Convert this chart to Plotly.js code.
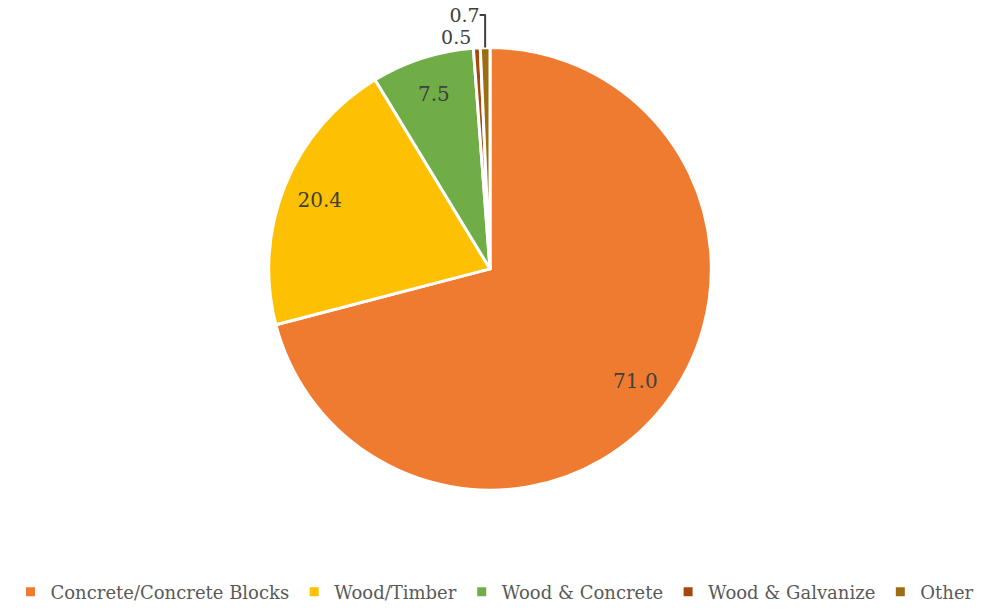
<!DOCTYPE html>
<html>
<head>
<meta charset="utf-8">
<script src="https://cdn.plot.ly/plotly-3.0.1.min.js"></script>
<style>html,body{margin:0;padding:0;background:#fff;}#chart{width:990px;height:611px;}</style>
</head>
<body>
<div id="chart"></div>
<script>
const categories = ["Concrete/Concrete Blocks", "Wood/Timber", "Wood & Concrete", "Wood & Galvanize", "Other"];
const shares = [71.0, 20.4, 7.5, 0.5, 0.7];
const labelsText = ["71.0", "20.4", "7.5", "0.5", "0.7"];
const colors = ["#EE7B30", "#FDC002", "#70AD47", "#A5480F", "#9C6D12"];
const positions = ["inside", "inside", "inside", "outside", "outside"];

const pieDomain = {x: [0, 980 / 990], y: [116 / 611, 1 - 48 / 611]};
const labelFont = {family: "DejaVu Serif, serif", size: 20, color: "#404040"};
const outLabelFont = {family: "DejaVu Serif, serif", size: 19, color: "#404040"};

const slices = {
  type: "pie",
  labels: categories,
  values: shares,
  textinfo: "none",
  sort: false,
  direction: "clockwise",
  rotation: 0,
  domain: pieDomain,
  marker: {colors: colors, line: {color: "#ffffff", width: 3}},
  hoverinfo: "label+value"
};

const valueLabels = {
  type: "pie",
  labels: categories,
  values: shares,
  text: labelsText,
  textinfo: "text",
  textposition: positions,
  insidetextorientation: "horizontal",
  hole: 0.66,
  sort: false,
  direction: "clockwise",
  rotation: 0,
  domain: pieDomain,
  showlegend: false,
  marker: {colors: colors.map(() => "rgba(0,0,0,0)"), line: {width: 0}},
  textfont: labelFont,
  insidetextfont: labelFont,
  outsidetextfont: outLabelFont,
  hoverinfo: "skip"
};

const layout = {
  width: 990, height: 611,
  margin: {l: 0, r: 0, t: 0, b: 0},
  paper_bgcolor: "#ffffff",
  showlegend: true,
  legend: {
    orientation: "h", x: 0.5, xanchor: "center", y: 13 / 611, yanchor: "middle",
    font: {family: "DejaVu Serif, serif", size: 18, color: "#595959"},
    itemwidth: 30,
    traceorder: "normal"
  }
};

Plotly.newPlot("chart", [slices, valueLabels], layout, {displayModeBar: false});
</script>
</body>
</html>
